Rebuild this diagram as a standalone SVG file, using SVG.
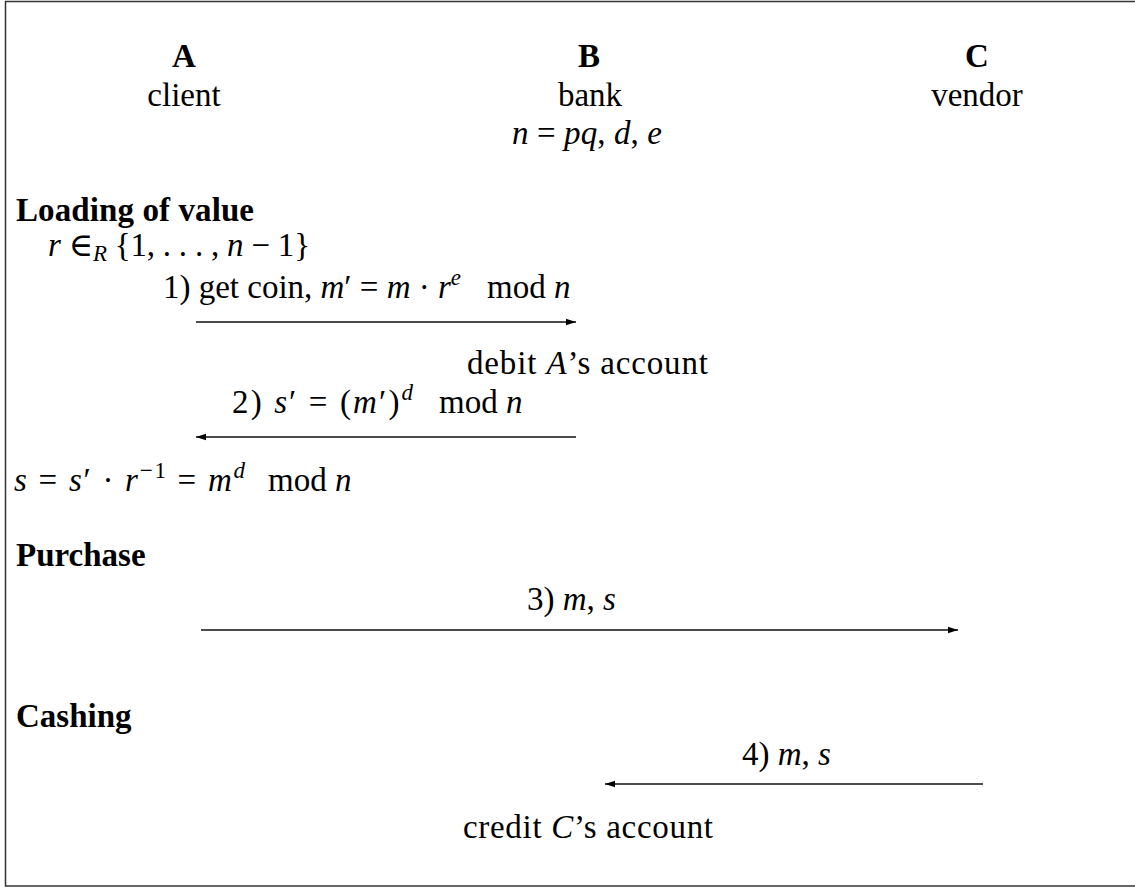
<svg xmlns="http://www.w3.org/2000/svg" width="1135" height="889" viewBox="0 0 1135 889">
<style>
text{font-family:"Liberation Serif","DejaVu Serif","Times New Roman",serif;font-size:33px;fill:#000}
.b{font-weight:bold}
.c{text-anchor:middle}
.i{font-style:italic}
.s{font-size:23px}
.conn line{stroke:#111;stroke-width:1.3}
</style>
<defs>
<marker id="ah" viewBox="0 0 10 8" refX="10" refY="4" markerWidth="10" markerHeight="8" markerUnits="userSpaceOnUse" orient="auto">
<path d="M0,0.8 L10,4 L0,7.2 Z" fill="#000"/>
</marker>
</defs>
<rect x="5.5" y="1.5" width="1140" height="884.5" fill="#fff" stroke="#333" stroke-width="1.5"/>
<g id="nodeA">
<text class="b c" x="184" y="67">A</text>
<text class="c" x="184" y="106">client</text>
</g>
<g id="nodeB">
<text class="b c" x="589" y="67">B</text>
<text class="c" x="590" y="106">bank</text>
<text x="512" y="144" textLength="150"><tspan class="i">n</tspan> = <tspan class="i">pq</tspan>, <tspan class="i">d</tspan>, <tspan class="i">e</tspan></text>
</g>
<g id="nodeC">
<text class="b c" x="977" y="67">C</text>
<text class="c" x="977" y="106">vendor</text>
</g>
<g id="labels">
<text class="b" x="16" y="221" textLength="238">Loading of value</text>
<text x="48" y="256" textLength="262"><tspan class="i">r</tspan> ∈<tspan class="i s" dy="5">R</tspan><tspan dy="-5"> {1, . . . , </tspan><tspan class="i">n</tspan> − 1}</text>
<g id="msg1label">
<text x="163" y="298" textLength="298">1) get coin, <tspan class="i">m</tspan>′ = <tspan class="i">m</tspan> · <tspan class="i">r</tspan><tspan class="i s" dy="-13">e</tspan></text>
<text x="487" y="298">mod <tspan class="i">n</tspan></text>
</g>
<text x="467" y="374" textLength="241">debit <tspan class="i">A</tspan>’s account</text>
<g id="msg2label">
<text x="232" y="413" textLength="181">2) <tspan class="i">s</tspan>′ = (<tspan class="i">m</tspan>′)<tspan class="i s" dy="-13">d</tspan></text>
<text x="439" y="413">mod <tspan class="i">n</tspan></text>
</g>
<g id="sig">
<text x="14" y="491" textLength="231"><tspan class="i">s</tspan> = <tspan class="i">s</tspan>′ · <tspan class="i">r</tspan><tspan class="s" dy="-13">−1</tspan><tspan dy="13"> = </tspan><tspan class="i">m</tspan><tspan class="i s" dy="-13">d</tspan></text>
<text x="268" y="491">mod <tspan class="i">n</tspan></text>
</g>
<text class="b" x="16" y="566">Purchase</text>
<text x="527" y="610">3) <tspan class="i">m</tspan>, <tspan class="i">s</tspan></text>
<text class="b" x="16" y="727">Cashing</text>
<text x="742" y="765">4) <tspan class="i">m</tspan>, <tspan class="i">s</tspan></text>
<text x="463" y="838" textLength="250">credit <tspan class="i">C</tspan>’s account</text>
</g>
<g id="connectors" class="conn">
<line x1="196" y1="322" x2="576" y2="322" marker-end="url(#ah)"/>
<line x1="576" y1="437" x2="196" y2="437" marker-end="url(#ah)"/>
<line x1="201" y1="630" x2="958" y2="630" marker-end="url(#ah)"/>
<line x1="983" y1="784" x2="605" y2="784" marker-end="url(#ah)"/>
</g>
</svg>
